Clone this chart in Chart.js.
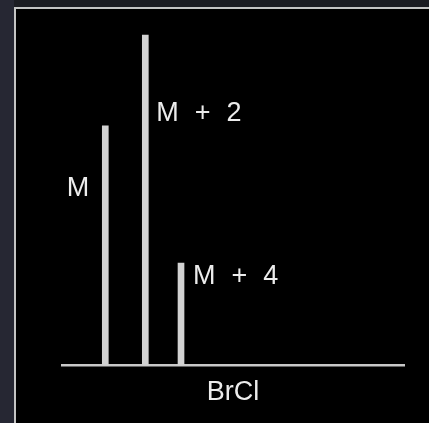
<!DOCTYPE html>
<html>
<head>
<meta charset="utf-8">
<script src="https://cdn.jsdelivr.net/npm/chart.js@4"></script>
<style>
  html, body { margin: 0; padding: 0; background: #1b1c22; width: 429px; height: 423px; overflow: hidden; }
  #leftStrip { position: absolute; left: 0; top: 0; width: 14px; height: 423px; background: #262733; }
  #panel { position: absolute; left: 14px; top: 7px; width: 415px; height: 416px; background: #000;
           border-left: 2.5px solid #c4c4c4; border-top: 2.5px solid #c4c4c4; box-sizing: border-box; }
  #wrap { position: absolute; left: 0; top: 0; width: 429px; height: 423px; }
</style>
</head>
<body>
<div id="leftStrip"></div>
<div id="panel"></div>
<div id="wrap"><canvas id="c" width="429" height="423"></canvas></div>
<script>
// Data
const peakLabels = ["M", "M + 2", "M + 4"];
const peakPositions = [12.66, 24.36, 34.8];   // position along the baseline (0–100)
const peakHeights = [72.6, 100, 31];          // relative intensity
const compoundName = "BrCl";

// Label styling (pixel offsets relative to each bar's top / sides)
const labelStyle = [
  { side: "left",  dx: 13, dy: 70 },
  { side: "right", dx: 8,  dy: 86 },
  { side: "right", dx: 9,  dy: 21 }
];

const textColor = "#ececec";
const barColor = "#d2d2d2";
const fontFamily = "'Liberation Sans', Arial, Helvetica, sans-serif";

const peakLabelPlugin = {
  id: "peakLabels",
  afterDatasetsDraw(chart) {
    const ctx = chart.ctx;
    const meta = chart.getDatasetMeta(0);
    ctx.save();
    ctx.font = "27px " + fontFamily;
    ctx.fillStyle = textColor;
    ctx.textBaseline = "alphabetic";
    try { ctx.wordSpacing = "8.5px"; } catch (e) {}
    meta.data.forEach((bar, i) => {
      const st = labelStyle[i];
      const half = bar.width / 2;
      const y = bar.y + st.dy;
      if (st.side === "left") {
        ctx.textAlign = "right";
        ctx.fillText(peakLabels[i], bar.x - half - st.dx, y);
      } else {
        ctx.textAlign = "left";
        ctx.fillText(peakLabels[i], bar.x + half + st.dx, y);
      }
    });
    ctx.restore();
  }
};

new Chart(document.getElementById("c"), {
  type: "bar",
  data: {
    datasets: [{
      data: peakPositions.map((x, i) => ({ x: x, y: peakHeights[i] })),
      backgroundColor: barColor,
      borderWidth: 0,
      barThickness: 6
    }]
  },
  options: {
    responsive: false,
    animation: false,
    events: [],
    layout: { padding: { left: 62, right: 25, top: 20, bottom: 14 } },
    plugins: { legend: { display: false }, tooltip: { enabled: false } },
    scales: {
      x: {
        type: "linear",
        min: 0, max: 100,
        offset: false,
        grid: { display: false, drawTicks: false },
        ticks: { display: false },
        border: { display: true, color: "#c8c8c8", width: 2.5 },
        title: {
          display: true,
          text: compoundName,
          color: textColor,
          font: { family: fontFamily, size: 27 },
          padding: { top: 11, bottom: 0 }
        }
      },
      y: {
        display: false,
        min: 0, max: 104.6
      }
    }
  },
  plugins: [peakLabelPlugin]
});
</script>
</body>
</html>
